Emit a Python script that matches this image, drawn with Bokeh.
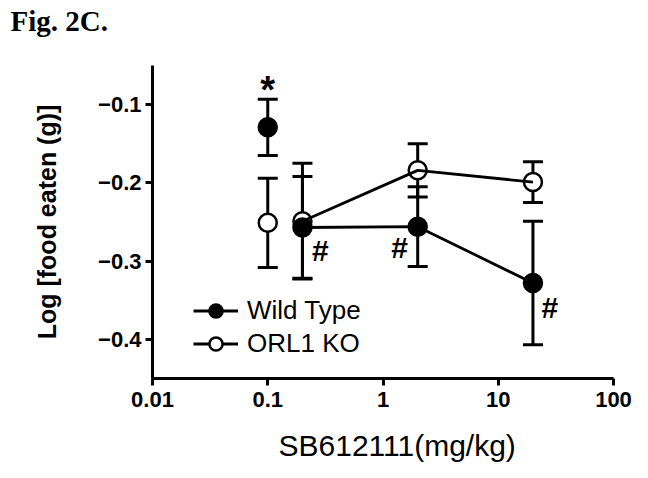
from bokeh.plotting import figure
from bokeh.models import (ColumnDataSource, Whisker, TeeHead, FixedTicker, Range1d,
                          Legend, LegendItem, BasicTickFormatter, Title)
from bokeh.core.properties import value
from bokeh.embed import file_html
from bokeh.resources import INLINE

# ---- data ----
dose = [0.1, 0.2, 2, 20]
wt_mean = [-0.129, -0.257, -0.256, -0.328]
wt_sem = [0.036, 0.065, 0.051, 0.079]
ko_mean = [-0.251, -0.249, -0.184, -0.199]
ko_sem = [0.057, 0.074, 0.034, 0.026]

x_ticks = [0.01, 0.1, 1, 10, 100]
x_tick_labels = ["0.01", "0.1", "1", "10", "100"]
y_ticks = [-0.4, -0.3, -0.2, -0.1]
y_tick_labels = ["-0.4", "-0.3", "-0.2", "-0.1"]

star_text = ["*"]
hash_text = ["#", "#", "#"]

SANS = "Liberation Sans"

W, H = 632, 462
FL, FR, FT, FB = 152, 613, 65, 378   # frame edges in canvas px

p = figure(width=W, height=H, x_axis_type="log", title=None,
           x_range=Range1d(0.01, 100), y_range=Range1d(-0.45, -0.05),
           output_backend="svg", toolbar_location=None,
           min_border_left=FL, min_border_right=W - FR,
           min_border_top=FT, min_border_bottom=H - FB)
p.outline_line_color = None
p.xgrid.visible = False
p.ygrid.visible = False
p.background_fill_color = "white"
p.border_fill_color = "white"

# axes
for ax in (p.xaxis[0], p.yaxis[0]):
    ax.axis_line_width = 3
    ax.axis_line_color = "black"
    ax.major_tick_line_width = 3
    ax.major_tick_line_color = "black"
    ax.major_tick_in = 0
    ax.major_tick_out = 7
    ax.minor_tick_line_color = None
    ax.major_label_text_font = SANS
    ax.major_label_text_font_style = "bold"
    ax.major_label_text_font_size = "22px"
    ax.major_label_text_color = "black"
    ax.axis_label_text_font = SANS
    ax.axis_label_text_color = "black"

p.xaxis[0].ticker = FixedTicker(ticks=x_ticks, minor_ticks=[])
p.xaxis[0].formatter = BasicTickFormatter()
p.xaxis[0].major_label_overrides = {k: k for k in x_tick_labels}
p.xaxis[0].major_label_standoff = 6

p.yaxis[0].ticker = FixedTicker(ticks=y_ticks, minor_ticks=[])
p.yaxis[0].major_label_overrides = {k: k for k in y_tick_labels}
p.yaxis[0].major_label_standoff = 4
p.yaxis[0].axis_label = "Log [food eaten (g)]"
p.yaxis[0].axis_label_text_font_size = "25px"
p.yaxis[0].axis_label_text_font_style = "bold"
p.yaxis[0].axis_label_standoff = 34

# spacing panels so the titles sit where the reference has them
p.add_layout(Title(text=" ", text_font_size="1px", standoff=25), "above")
p.add_layout(Title(text="Fig. 2C.", align="left", offset=10 - FL, standoff=2,
                   text_font="Liberation Serif", text_font_size="29px",
                   text_font_style="bold", text_color="black"), "above")
p.add_layout(Title(text=" ", text_font_size="1px", standoff=14), "below")
p.add_layout(Title(text="SB612111(mg/kg)", align="left", offset=278 - FL, standoff=0,
                   text_font=SANS, text_font_size="30px",
                   text_font_style="normal", text_color="black"), "below")

# sources
wt_src = ColumnDataSource(dict(x=dose, y=wt_mean,
                               up=[m + s for m, s in zip(wt_mean, wt_sem)],
                               lo=[m - s for m, s in zip(wt_mean, wt_sem)]))
ko_src = ColumnDataSource(dict(x=dose, y=ko_mean,
                               up=[m + s for m, s in zip(ko_mean, ko_sem)],
                               lo=[m - s for m, s in zip(ko_mean, ko_sem)]))
wt_line_src = ColumnDataSource(dict(x=dose[1:], y=wt_mean[1:]))
ko_line_src = ColumnDataSource(dict(x=dose[1:], y=ko_mean[1:]))

def add_whisker(src):
    w = Whisker(source=src, base="x", upper="up", lower="lo", dimension="height",
                line_color="black", line_width=3,
                upper_head=TeeHead(size=20, line_width=3, line_color="black"),
                lower_head=TeeHead(size=20, line_width=3, line_color="black"))
    p.add_layout(w)

add_whisker(ko_src)
ko_sc = p.scatter("x", "y", source=ko_src, marker="circle", size=18,
                  fill_color="white", line_color="black", line_width=2.5)
ko_ln = p.line("x", "y", source=ko_line_src, line_color="black", line_width=2.8)

add_whisker(wt_src)
wt_ln = p.line("x", "y", source=wt_line_src, line_color="black", line_width=2.8)
wt_sc = p.scatter("x", "y", source=wt_src, marker="circle", size=18,
                  fill_color="black", line_color="black", line_width=2.5)

# significance marks anchored to wild-type points
p.text(x=dose[:1], y=wt_mean[:1], text=star_text, x_offset=0, y_offset=-37,
       text_font=value(SANS), text_font_style="bold", text_font_size="38px",
       text_align="center", text_baseline="alphabetic", text_color="black")
p.text(x=dose[1:], y=wt_mean[1:], text=hash_text,
       x_offset=[18, -18, 17], y_offset=[23, 21, 24],
       text_font=value(SANS), text_font_style="bold", text_font_size="30px",
       text_align="center", text_baseline="alphabetic", text_color="black")

legend = Legend(items=[LegendItem(label="Wild Type", renderers=[wt_ln, wt_sc]),
                       LegendItem(label="ORL1 KO", renderers=[ko_ln, ko_sc])],
                location=(193 - FL, FB - 360))
legend.glyph_width = 45
legend.glyph_height = 33
legend.label_height = 33
legend.label_standoff = 9
legend.spacing = 0
legend.padding = 0
legend.margin = 0
legend.border_line_color = None
legend.background_fill_alpha = 0
legend.label_text_font = SANS
legend.label_text_font_size = "26px"
legend.label_text_color = "black"
p.add_layout(legend, "center")

open("out.html", "w").write(file_html(p, INLINE))
